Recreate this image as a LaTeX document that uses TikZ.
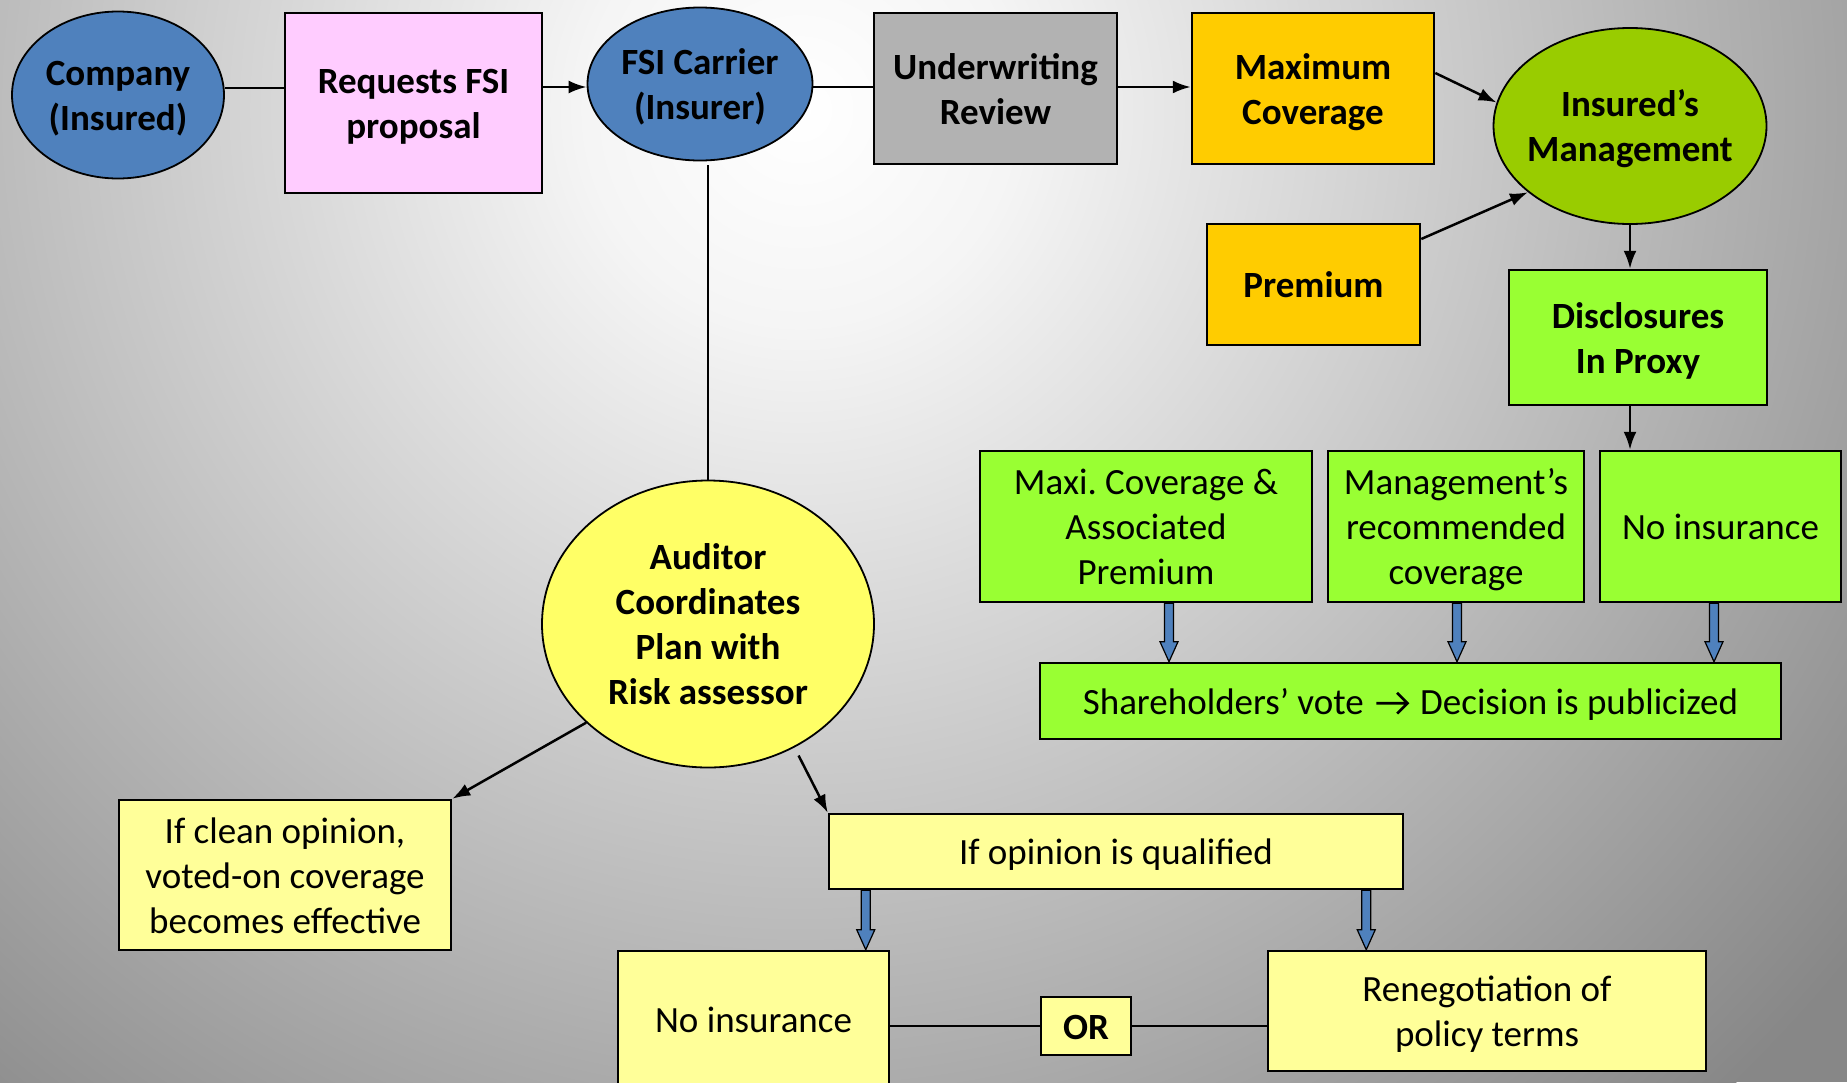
\documentclass[tikz,border=0pt]{standalone}
\usepackage{fontspec}
\setmainfont{Carlito}
\usetikzlibrary{shapes.geometric,arrows.meta,calc}
\definecolor{ellblue}{HTML}{4F81BD}
\definecolor{pinkbox}{HTML}{FFCCFF}
\definecolor{graybox}{HTML}{B2B2B2}
\definecolor{goldbox}{HTML}{FFCC00}
\definecolor{olivegreen}{HTML}{99CC00}
\definecolor{limebox}{HTML}{99FF33}
\definecolor{yellowell}{HTML}{FFFF66}
\definecolor{paleyellow}{HTML}{FFFF99}
\definecolor{arrowblue}{HTML}{4F81BD}
\pgfdeclareradialshading{bgshade}{\pgfpoint{0bp}{0bp}}{color(0bp)=(white); color(4bp)=(white!96!black); color(25bp)=(black!47); color(50bp)=(black!47)}
\newcommand\mystrut{\rule[-8.8pt]{0pt}{44.2pt}}
\newcommand\chevarrow{\hspace{3pt}\tikz[baseline=0pt]\draw[line width=2.6pt, line join=miter]
  (0pt,0.3em) -- (0.84em,0.3em) (0.56em,0.58em) -- (0.84em,0.3em) -- (0.56em,0.02em);\hspace{3pt}}
\tikzset{
  txt/.style={font=\fontsize{37}{45}\selectfont},
  btxt/.style={font=\fontsize{37}{45}\selectfont\bfseries},
  strutted/.style={execute at begin node=\mystrut, execute at end node=\mystrut},
  boxnode/.style={draw=black, line width=2.5pt, rectangle, align=center, inner sep=0pt, strutted},
  ellnode/.style={draw=black, line width=1.8pt, ellipse, inner sep=0pt},
  elltext/.style={align=center, inner sep=0pt, strutted},
  conn/.style={line width=2.5pt, draw=black},
  arr/.style={conn, -{Latex[length=18pt,width=13pt]}},
  blk/.style={fill=arrowblue, draw=black, line width=1.2pt, line join=miter},
}
\newcommand\blkarrow[2]{%
  \path #1 coordinate (ba1) #2 coordinate (ba2);
  \filldraw[blk] let \p1=(ba1), \p2=(ba2) in
    (\x1-4.5pt,\y1) -- (\x1-4.5pt,\y2+20pt) -- (\x1-9pt,\y2+20pt) -- (\x1,\y2)
    -- (\x1+9pt,\y2+20pt) -- (\x1+4.5pt,\y2+20pt) -- (\x1+4.5pt,\y1) -- cycle;
}
\begin{document}
\begin{tikzpicture}[x=1pt,y=-1pt]
\useasboundingbox (0,0) rectangle (1847,1082);
\fill[black!47] (0,0) rectangle (1847,1082);
\begin{scope}
  \clip (0,0) rectangle (1847,1082);
  \shade[shading=bgshade] (800,110) circle (1350);
\end{scope}

% top row
\node[ellnode, fill=ellblue, minimum width=212pt, minimum height=167pt] (company) at (118,95) {};
\node[elltext, btxt] (company-t) at (company) {\mystrut Company\\(Insured)\mystrut};
\node[boxnode, btxt, fill=pinkbox, minimum width=257pt, minimum height=180pt] (request) at (413.5,103) {\mystrut Requests FSI\\proposal\mystrut};
\node[ellnode, fill=ellblue, minimum width=225pt, minimum height=153pt] (carrier) at (700,84) {};
\node[elltext, btxt] (carrier-t) at (carrier) {\mystrut FSI Carrier\\(Insurer)\mystrut};
\node[boxnode, btxt, fill=graybox, minimum width=243pt, minimum height=151pt] (under) at (995.5,88.5) {\mystrut Underwriting\\Review\mystrut};
\node[boxnode, btxt, fill=goldbox, minimum width=242pt, minimum height=151pt] (maxcov) at (1313,88.5) {\mystrut Maximum\\Coverage\mystrut};
\node[ellnode, fill=olivegreen, minimum width=273pt, minimum height=196pt] (insmgmt) at (1630,126) {};
\node[elltext, btxt] (insmgmt-t) at (insmgmt) {\mystrut Insured’s\\Management\mystrut};
\node[boxnode, btxt, fill=goldbox, minimum width=213pt, minimum height=121pt] (premium) at (1313.5,284.5) {Premium};
\node[boxnode, btxt, fill=limebox, minimum width=258pt, minimum height=135pt] (disclose) at (1638,337.5) {\mystrut Disclosures\\In Proxy\mystrut};

% green options
\node[boxnode, txt, fill=limebox, minimum width=332pt, minimum height=151pt] (maxi) at (1146,526.5) {\mystrut Maxi.\ Coverage \&\\Associated\\Premium\mystrut};
\node[boxnode, txt, fill=limebox, minimum width=256pt, minimum height=151pt] (mrec) at (1456,526.5) {\mystrut Management’s\\recommended\\coverage\mystrut};
\node[boxnode, txt, fill=limebox, minimum width=241pt, minimum height=151pt] (noins1) at (1720.5,526.5) {No insurance};
\node[boxnode, txt, fill=limebox, minimum width=741pt, minimum height=76pt] (share) at (1410.5,701) {Shareholders’ vote \chevarrow\ Decision is publicized};

% auditor branch
\node[ellnode, fill=yellowell, minimum width=332pt, minimum height=287pt] (auditor) at (708,624) {};
\node[elltext, btxt] (auditor-t) at (auditor) {\mystrut Auditor\\Coordinates\\Plan with\\Risk assessor\mystrut};
\node[boxnode, txt, fill=paleyellow, minimum width=332pt, minimum height=150pt] (clean) at (285,875) {\mystrut If clean opinion,\\voted-on coverage\\becomes effective\mystrut};
\node[boxnode, txt, fill=paleyellow, minimum width=574pt, minimum height=75pt] (qual) at (1116,851.5) {If opinion is qualified};
\node[boxnode, txt, fill=paleyellow, minimum width=271pt, minimum height=136pt] (noins2) at (753.5,1019) {No insurance};
\node[boxnode, txt, fill=paleyellow, minimum width=438pt, minimum height=120pt] (reneg) at (1487,1011) {\mystrut Renegotiation of\\policy terms\mystrut};
\node[boxnode, btxt, fill=paleyellow, minimum width=90pt, minimum height=58pt] (ornode) at (1086,1026) {OR};

% connectors top row
\draw[conn] (company.east |- 0,88) -- (request.west |- 0,88);
\draw[arr] (request.east |- 0,87) -- (carrier.west |- 0,87);
\draw[conn] (carrier.east |- 0,87) -- (under.west |- 0,87);
\draw[arr] (under.east |- 0,87) -- (maxcov.west |- 0,87);
\draw[arr] (maxcov.east |- 0,73) -- (insmgmt.170);
\draw[arr] (premium.north east |- 0,239) -- (insmgmt.213);
\draw[arr] (insmgmt.south) -- (insmgmt.south |- disclose.north);
\draw[arr] (insmgmt.south |- disclose.south) -- (insmgmt.south |- noins1.north);

% carrier to auditor
\draw[conn] (auditor.north |- 0,165) -- (auditor.north);

% auditor branches
\draw[arr] (auditor.219) -- (clean.north east);
\draw[arr, shorten <=9pt] (auditor.-55) -- (qual.north west);

% OR line
\draw[conn] (noins2.east |- ornode.west) -- (ornode.west);
\draw[conn] (ornode.east) -- (reneg.west |- ornode.east);

% block arrows
\blkarrow{($(maxi.south)+(23,0)$)}{($(share.north -| maxi.south)+(23,0)$)}
\blkarrow{($(mrec.south)+(1,0)$)}{($(share.north -| mrec.south)+(1,0)$)}
\blkarrow{($(noins1.south)+(-6.5,0)$)}{($(share.north -| noins1.south)+(-6.5,0)$)}
\blkarrow{($(qual.south west)+(38,0)$)}{($(noins2.north -| qual.south west)+(38,0)$)}
\blkarrow{($(qual.south east)+(-38,0)$)}{($(reneg.north -| qual.south east)+(-38,0)$)}
\end{tikzpicture}
\end{document}
